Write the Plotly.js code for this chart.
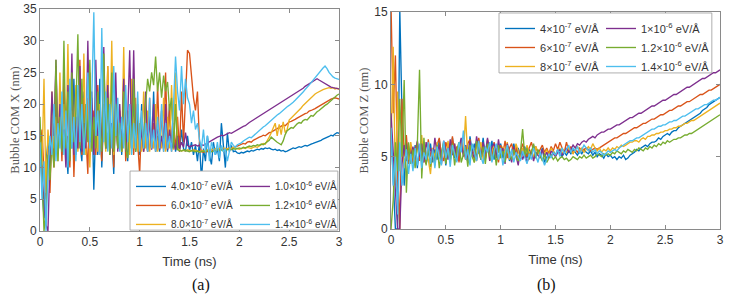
<!DOCTYPE html>
<html>
<head>
<meta charset="utf-8">
<script src="https://cdn.plot.ly/plotly-3.0.1.min.js"></script>
<style>
  html, body { margin: 0; padding: 0; background: #ffffff; }
  #chart { width: 729px; height: 302px; }
</style>
</head>
<body>
<div id="chart"></div>
<script>
// Bubble centre-of-mass trajectories, sampled every 0.02 ns from 0 to 3 ns
const sampleStart = 0;     // ns
const sampleStep = 0.02;   // ns

const timeTicks = [0, 0.5, 1, 1.5, 2, 2.5, 3];
const timeTickText = ['0', '0.5', '1', '1.5', '2', '2.5', '3'];

// Panel (a): lateral position, Bubble COM X (nm)
const fieldLabelsX = [
  '4.0×10<sup>-7</sup> eV/Å', '6.0×10<sup>-7</sup> eV/Å', '8.0×10<sup>-7</sup> eV/Å',
  '1.0×10<sup>-6</sup> eV/Å', '1.2×10<sup>-6</sup> eV/Å', '1.4×10<sup>-6</sup> eV/Å'
];
const comX_4e7 = [
  13, 8, 2, 11, 14, 10, 18, 11, 21, 13,
  17, 12, 22, 14, 9, 19, 13, 24, 12, 20,
  14, 11, 22, 13, 18, 12, 21, 6.5, 17, 12,
  24, 10, 19, 13, 22, 12, 16, 9, 20, 13,
  18, 12, 23, 14, 11, 19, 13, 21, 12.5, 17,
  12, 20, 13, 16, 12.5, 18, 13, 22, 12.5, 15,
  12.5, 19, 13, 16, 12.5, 20, 13, 17, 12.5, 14,
  12.5, 16, 13, 12.5, 15, 12.5, 14, 12, 13.5, 11,
  14, 8, 13, 11, 15, 12, 10.5, 14, 12, 13,
  11, 17, 13, 10, 15.5, 12.5, 13.5, 12.5, 12.6, 12.3,
  12.2, 12.4, 12.3, 12.5, 12.6, 12.5, 12.7, 12.6, 12.8, 12.9,
  12.8, 13.0, 12.9, 13.1, 13.0, 13.1, 12.9, 12.8, 12.9, 12.7,
  12.8, 12.6, 12.7, 12.5, 12.6, 12.8, 13.0, 13.1, 13.0, 13.2,
  13.3, 13.2, 13.4, 13.5, 13.4, 13.6, 13.7, 13.8, 13.9, 14.1,
  14.2, 14.3, 14.5, 14.6, 14.8, 14.9, 15.1, 15.0, 15.3, 15.5,
  15.4
];
const comX_6e7 = [
  12, 16, 9, 5, 13, 6, 17, 10, 26, 12,
  19, 11, 24, 13, 15, 10, 22, 8.5, 18, 13,
  27, 12, 21, 14, 9, 25, 13, 19, 12, 23,
  15, 11, 20, 13, 26, 12.5, 17, 10, 21, 13,
  19, 12.5, 24, 11, 18, 13, 22, 12, 20, 14,
  9, 18, 12.5, 15, 12.5, 21, 13, 17, 12.5, 23,
  13, 19, 12.5, 25, 13, 20, 12.5, 16, 13, 18,
  12.5, 22, 14, 21, 28.5, 28, 24, 21, 19, 22,
  14, 12.5, 12.4, 12.6, 12.5, 12.4, 12.6, 12.7, 12.6, 12.8,
  12.7, 12.9, 12.8, 13.0, 12.9, 13.1, 13.0, 13.2, 13.3, 13.4,
  13.5, 13.6, 13.8, 13.7, 14.0, 14.1, 14.0, 14.3, 14.5, 14.6,
  14.8, 14.9, 15.1, 15.0, 15.3, 15.5, 15.6, 15.8, 16.0, 16.1,
  16.4, 16.5, 16.7, 16.6, 16.9, 17.2, 17.3, 17.4, 17.6, 17.8,
  18.0, 18.1, 18.3, 18.5, 18.6, 18.9, 19.0, 19.1, 19.3, 19.5,
  19.7, 19.9, 20.1, 20.3, 20.4, 20.6, 20.8, 20.9, 21.0, 20.9,
  20.8
];
const comX_8e7 = [
  15, 10, 24, 6, 16, 12, 22, 13, 18, 11,
  25, 12.5, 20, 13, 29.5, 12, 19, 14, 23, 12.5,
  17, 13, 28, 12, 21, 10, 19, 13, 24, 12.5,
  20, 13, 17, 12.5, 26, 13, 30, 12, 22, 13,
  18, 12.5, 29, 13, 19, 12, 24, 13, 21, 12.5,
  17, 12.5, 22, 13, 19, 12.5, 15, 13, 20, 12.5,
  16, 13, 21, 12.5, 18, 13, 23, 12.8, 25, 13,
  12.8, 12.6, 12.7, 12.6, 12.8, 12.7, 12.6, 12.8, 12.7, 12.6,
  12.5, 12.6, 12.7, 12.6, 12.8, 12.7, 12.9, 12.8, 13.0, 12.9,
  13.0, 12.9, 13.1, 13.0, 12.9, 13.1, 13.0, 13.2, 13.1, 13.0,
  12.9, 13.0, 13.1, 13.0, 13.2, 13.1, 13.0, 13.2, 13.3, 13.2,
  13.4, 13.6, 13.8, 13.7, 14.2, 14.8, 15.5, 16.2, 17.0, 15.0,
  16.8, 15.2, 17.2, 15.5, 16.0, 17.5, 17.8, 18.2, 18.5, 18.8,
  19.1, 19.4, 19.8, 20.1, 20.5, 20.8, 21.1, 21.4, 21.6, 21.8,
  22.0, 22.2, 22.3, 22.4, 22.5, 22.6, 22.5, 22.6, 22.4, 22.5,
  22.3
];
const comX_1e6 = [
  12, 10, 4, 1, 0, 12, 22, 15, 27, 13,
  20, 12.5, 16, 10, 23, 14, 28, 12, 18, 13,
  26, 12.5, 17, 13, 30, 14, 22, 12, 27, 15,
  19, 12.5, 29, 13, 23, 12, 17, 13, 25, 12.5,
  20, 13, 24, 12.5, 18, 28.5, 14, 28.5, 13, 19,
  13, 16, 12.5, 22, 13, 18, 12.8, 20, 13, 17,
  12.8, 15, 13, 20, 12.8, 16, 13, 14, 12.8, 15,
  13, 14, 13.2, 15.5, 13.5, 13.3, 13.4, 13.5, 13.6, 13.4,
  13.5, 13.6, 13.5, 13.7, 13.8, 14.0, 14.2, 14.4, 14.6, 14.8,
  14.9, 15.1, 15.0, 15.2, 15.4, 15.5, 15.4, 15.6, 15.8, 16.0,
  16.1, 16.3, 16.5, 16.6, 16.9, 17.1, 17.3, 17.5, 17.6, 17.8,
  18.0, 18.2, 18.4, 18.6, 18.8, 19.0, 19.2, 19.4, 19.6, 19.8,
  20.0, 20.2, 20.4, 20.6, 20.8, 21.0, 21.2, 21.4, 21.6, 21.8,
  22.0, 22.3, 22.5, 22.8, 23.0, 23.3, 23.5, 23.7, 23.9, 24.0,
  23.8, 23.6, 23.4, 23.2, 23.0, 22.9, 22.7, 22.6, 22.5, 22.5,
  22.4
];
const comX_12e7 = [
  18, 10, 0, 3, 12, 8, 14, 10, 27, 11,
  18, 12.5, 30, 13, 22, 11, 25, 14, 19, 31,
  13, 24, 12, 20, 14, 27, 12.5, 18, 13, 22,
  16, 12.5, 28, 13, 21, 12, 25, 12.5, 20, 13,
  17, 12.5, 22, 13, 11.5, 19, 13, 24, 12.5, 20,
  14, 18, 13, 20, 24, 22, 25, 23, 27.5, 22,
  25, 21, 24.5, 22, 23.5, 19, 21, 13, 20, 12.8,
  12.7, 12.6, 12.8, 12.7, 12.6, 12.5, 12.7, 12.6, 12.5, 12.6,
  12.4, 12.5, 12.6, 12.5, 12.7, 12.6, 12.5, 12.6, 12.7, 12.8,
  12.7, 12.8, 12.6, 12.7, 12.8, 12.9, 12.8, 13.0, 12.9, 13.0,
  13.1, 13.0, 13.2, 13.1, 13.2, 13.4, 13.3, 13.5, 13.4, 13.6,
  13.5, 13.7, 13.6, 13.8, 14.0, 14.3, 14.8, 14.5, 14.2, 14.0,
  13.8, 13.6, 14.2, 15.2, 15.8, 16.0, 16.3, 16.2, 16.6, 16.9,
  17.1, 17.0, 17.4, 17.6, 17.5, 17.9, 18.2, 18.1, 18.5, 18.8,
  19.0, 19.3, 19.6, 19.8, 20.0, 20.3, 20.6, 20.9, 21.1, 21.4,
  21.6
];
const comX_14e7 = [
  14, 5, 11, 0, 9, 15, 12, 20, 11, 17,
  13, 22, 12, 19, 10, 24, 13, 18, 11, 23,
  14, 20, 12, 17, 25, 13, 21, 34.5, 15, 19,
  12, 32, 14, 22, 12.5, 20, 13, 26, 15, 21,
  12.5, 18, 13, 23, 14, 20, 12, 17, 13, 22,
  12.5, 19, 13, 17, 12.5, 21, 13, 16, 12.5, 18,
  13, 20, 12.5, 17, 13, 15, 12.5, 21, 27.5, 22,
  19, 26, 20, 24, 21, 20, 17, 19, 16, 17,
  14.5, 13, 16, 12.5, 15, 11, 14, 13, 12, 14,
  11.5, 13.5, 12.5, 13, 11, 12.5, 14, 13.5, 13.2, 13.6,
  13.7, 13.9, 14.2, 14.4, 14.6, 14.8, 14.7, 15.0, 15.3, 15.6,
  15.8, 16.1, 16.4, 16.6, 16.9, 17.2, 17.5, 17.7, 18.0, 18.3,
  18.5, 18.8, 19.1, 19.3, 19.6, 19.8, 20.0, 20.3, 20.6, 20.9,
  21.2, 21.5, 21.9, 22.3, 22.6, 23.0, 23.4, 23.8, 24.2, 24.6,
  24.9, 25.3, 25.7, 26.0, 25.6, 25.0, 24.6, 24.3, 24.1, 24.0,
  23.9
];

// Panel (b): vertical position, Bubble COM Z (nm)
const fieldLabelsZ = [
  '4×10<sup>-7</sup> eV/Å', '6×10<sup>-7</sup> eV/Å', '8×10<sup>-7</sup> eV/Å',
  '1×10<sup>-6</sup> eV/Å', '1.2×10<sup>-6</sup> eV/Å', '1.4×10<sup>-6</sup> eV/Å'
];
const comZ_4e7 = [
  7, 3, 0, 0, 15.2, 8, 3, 6, 4.5, 5.5,
  4.5, 5.8, 4.2, 5.6, 4.8, 6, 4.5, 5.2, 5.9, 4.6,
  5.5, 4.8, 6.2, 5, 5.7, 4.4, 5.9, 5.1, 6.3, 4.9,
  5.6, 4.7, 6.1, 5.2, 5.8, 4.6, 6.4, 5.3, 5.9, 4.8,
  6, 5.1, 6.3, 4.9, 5.7, 5.2, 6.1, 4.8, 5.6, 5.3,
  5.9, 4.9, 5.5, 5.8, 4.7, 5.4, 5.9, 5, 5.6, 4.8,
  5.3, 5.7, 4.9, 5.5, 5.2, 5.8, 4.9, 5.4, 5.1, 5.6,
  4.6, 4.9, 5.3, 5.0, 5.4, 5.1, 5.5, 5.2, 5.0, 5.3,
  5.1, 5.4, 5.2, 5.5, 5.3, 5.1, 5.4, 5.2, 5.5, 5.3,
  5.2, 5.4, 5.1, 5.3, 5.0, 5.2, 5.1, 4.9, 5.2, 5.0,
  5.1, 4.9, 5.0, 4.8, 5.0, 4.9, 5.1, 4.8, 4.9, 5.1,
  5.2, 5.3, 5.5, 5.4, 5.6, 5.7, 5.8, 5.7, 5.9, 6.0,
  6.0, 6.1, 6.3, 6.2, 6.4, 6.5, 6.6, 6.5, 6.7, 6.8,
  6.8, 7.0, 7.1, 7.2, 7.3, 7.4, 7.5, 7.6, 7.7, 7.8,
  7.9, 8.0, 8.2, 8.3, 8.4, 8.6, 8.7, 8.8, 8.9, 9.0,
  9.1
];
const comZ_6e7 = [
  15.5, 8, 12, 4, 0, 9, 5, 6.5, 4.5, 5.8,
  4.6, 5.5, 6, 4.7, 5.9, 5.2, 4.5, 6.2, 5, 5.6,
  4.4, 5.8, 6.3, 5.1, 4.7, 6, 5.4, 4.9, 6.4, 5.2,
  5.7, 4.6, 6.1, 5.5, 4.8, 5.9, 6.2, 5, 5.5, 4.7,
  6.3, 5.4, 5.9, 4.8, 6.2, 5.6, 5.0, 6.0, 5.3, 4.6,
  5.8, 5.2, 6.1, 4.9, 5.6, 5.9, 5.1, 5.7, 4.8, 5.4,
  5.9, 5.3, 5.0, 5.6, 6.0, 5.4, 5.7, 5.2, 5.5, 5.8,
  5.3, 5.6, 5.2, 5.7, 5.4, 5.9, 5.5, 6.0, 5.6, 5.3,
  6.0, 5.4, 5.7, 5.2, 5.5, 5.3, 5.6, 5.4, 5.5, 5.6,
  5.5, 5.4, 5.5, 5.6, 5.5, 5.6, 5.7, 5.8, 5.9, 6.0,
  6.1, 6.2, 6.3, 6.3, 6.4, 6.5, 6.6, 6.6, 6.7, 6.8,
  6.9, 7.0, 7.0, 7.1, 7.2, 7.3, 7.3, 7.4, 7.5, 7.6,
  7.6, 7.7, 7.8, 7.9, 7.9, 8.0, 8.1, 8.2, 8.2, 8.3,
  8.4, 8.5, 8.5, 8.6, 8.7, 8.8, 8.8, 8.9, 9.0, 9.1,
  9.2, 9.3, 9.3, 9.4, 9.5, 9.6, 9.6, 9.7, 9.8, 9.9,
  10.0
];
const comZ_8e7 = [
  6, 12.6, 3, 9.5, 4, 6.5, 4.2, 5.5, 4.8, 6.0,
  5.0, 4.4, 5.8, 5.2, 6.5, 4.6, 5.3, 4.8, 3.8, 5.6,
  4.9, 6.0, 5.2, 4.6, 5.7, 5.0, 6.1, 4.7, 5.4, 5.9,
  4.8, 5.5, 6.2, 5.1, 7.8, 4.9, 5.6, 5.3, 4.6, 5.8,
  5.2, 6.0, 4.8, 5.5, 5.9, 4.7, 5.4, 5.8, 5.0, 5.6,
  4.9, 5.7, 5.2, 6.0, 4.8, 5.4, 5.1, 5.9, 5.3, 4.9,
  5.6, 5.0, 5.8, 5.2, 5.5, 4.9, 5.7, 5.3, 5.0, 5.4,
  5.2, 5.5, 5.0, 5.6, 5.3, 5.1, 5.4, 5.6, 5.2, 5.5,
  5.3, 5.6, 5.4, 5.2, 5.5, 5.7, 5.4, 5.6, 5.3, 5.5,
  5.7, 5.5, 5.9, 5.6, 5.4, 5.6, 5.3, 5.5, 5.4, 5.6,
  5.4, 5.6, 5.5, 5.7, 5.6, 5.8, 5.7, 5.8, 5.9, 6.0,
  6.0, 6.1, 6.1, 6.0, 6.2, 6.3, 6.2, 6.4, 6.4, 6.5,
  6.5, 6.6, 6.6, 6.7, 6.7, 6.8, 6.8, 6.9, 6.9, 7.0,
  7.0, 7.1, 7.1, 7.2, 7.3, 7.3, 7.4, 7.5, 7.5, 7.6,
  7.7, 7.8, 7.9, 8.0, 8.1, 8.2, 8.3, 8.4, 8.5, 8.6,
  8.7
];
const comZ_1e6 = [
  8, 5, 2, 0, 0, 4.5, 5.8, 4.7, 5.5, 4.9,
  5.7, 4.8, 6.1, 5.0, 5.9, 4.6, 6.0, 5.3, 5.6, 4.8,
  6.3, 5.2, 5.8, 4.5, 6.1, 5.4, 4.8, 6.2, 5.1, 5.9,
  4.7, 5.6, 6.3, 5.0, 5.8, 4.6, 6.1, 5.3, 4.9, 6.4,
  5.5, 4.8, 6.0, 5.2, 6.3, 4.7, 5.7, 5.9, 4.9, 6.2,
  5.1, 5.6, 4.5, 5.9, 5.3, 4.6, 5.7, 5.0, 4.4, 5.5,
  4.8, 5.2, 4.6, 5.0, 5.4, 4.7, 5.3, 5.1, 4.9, 5.5,
  5.0, 5.3, 4.9, 5.4, 5.2, 5.0, 5.3, 5.5, 5.1, 5.4,
  5.6, 5.3, 5.5, 5.8, 5.6, 5.9, 5.8, 6.0, 6.1, 6.0,
  6.2, 6.3, 6.4, 6.3, 6.5, 6.6, 6.7, 6.7, 6.8, 6.9,
  6.9, 7.0, 7.1, 7.2, 7.2, 7.3, 7.4, 7.5, 7.6, 7.7,
  7.7, 7.8, 7.9, 8.0, 8.0, 8.1, 8.2, 8.3, 8.4, 8.5,
  8.5, 8.6, 8.7, 8.8, 8.9, 8.9, 9.0, 9.1, 9.2, 9.3,
  9.3, 9.4, 9.5, 9.6, 9.7, 9.8, 9.8, 9.9, 10.0, 10.1,
  10.2, 10.3, 10.4, 10.4, 10.5, 10.6, 10.7, 10.8, 10.8, 10.9,
  11.0
];
const comZ_12e7 = [
  0, 2, 6, 4, 9, 5, 10.3, 2.5, 6, 4.5,
  5.5, 4.2, 5.8, 11.0, 3.5, 6.3, 4.4, 5.7, 4.3, 5.4,
  4.6, 5.8, 4.2, 5.3, 6.0, 4.5, 5.6, 4.8, 5.9, 4.4,
  5.5, 6.0, 4.6, 5.2, 5.7, 4.3, 5.8, 5.0, 4.6, 6.1,
  5.3, 4.8, 5.7, 4.5, 5.9, 5.1, 4.7, 5.6, 4.4, 5.8,
  4.9, 5.4, 4.6, 5.7, 5.2, 4.8, 5.5, 5.0, 4.7, 5.3,
  6.9, 5.0, 5.6, 4.8, 5.3, 5.9, 4.9, 5.5, 5.1, 4.7,
  5.2, 4.6, 4.9, 5.1, 4.8, 5.0, 4.7, 4.9, 5.0, 4.8,
  4.9, 4.7, 4.8, 5.0, 4.9, 4.8, 5.0, 4.9, 5.1, 4.9,
  5.0, 5.1, 4.9, 5.0, 5.2, 5.1, 5.0, 5.2, 5.1, 5.2,
  5.1, 5.3, 5.2, 5.4, 5.3, 5.2, 5.4, 5.3, 5.5, 5.4,
  5.3, 5.5, 5.4, 5.6, 5.5, 5.4, 5.6, 5.5, 5.7, 5.6,
  5.8, 5.7, 5.9, 5.8, 6.0, 5.9, 6.1, 6.0, 6.1, 6.2,
  6.2, 6.3, 6.3, 6.4, 6.5, 6.5, 6.6, 6.6, 6.7, 6.8,
  6.9, 7.0, 7.1, 7.2, 7.3, 7.4, 7.5, 7.6, 7.7, 7.8,
  7.9
];
const comZ_14e7 = [
  7, 3, 5, 1, 6, 3, 4.5, 5.5, 3.8, 5.2,
  4.0, 5.6, 4.4, 5.9, 4.2, 5.3, 4.8, 6.0, 4.5, 5.5,
  4.2, 5.7, 5.0, 4.4, 6.1, 4.9, 5.6, 4.3, 5.8, 5.1,
  4.6, 6.0, 5.3, 6.8, 4.8, 5.5, 4.4, 5.9, 5.2, 4.7,
  6.1, 5.0, 4.5, 5.7, 5.3, 6.0, 4.6, 5.4, 5.9, 4.8,
  5.6, 4.4, 5.2, 5.8, 4.9, 5.5, 4.6, 5.3, 5.0, 4.7,
  5.4, 5.0, 4.5, 5.2, 4.8, 5.6, 5.1, 4.6, 5.3, 4.9,
  4.4, 4.8, 5.2, 4.9, 5.3, 5.1, 5.5, 5.0, 5.6, 5.2,
  5.5, 5.8, 5.3, 5.6, 5.4, 5.7, 5.2, 5.5, 5.8, 5.6,
  5.4, 5.6, 5.3, 5.5, 5.2, 5.4, 5.3, 5.1, 5.2, 5.4,
  5.3, 5.4, 5.5, 5.4, 5.6, 5.7, 5.8, 5.9, 6.0, 6.1,
  6.1, 6.2, 6.3, 6.3, 6.4, 6.5, 6.6, 6.7, 6.8, 6.9,
  6.9, 7.0, 7.1, 7.1, 7.2, 7.2, 7.3, 7.4, 7.4, 7.5,
  7.5, 7.6, 7.7, 7.8, 7.8, 7.9, 8.0, 8.1, 8.2, 8.3,
  8.3, 8.4, 8.5, 8.6, 8.6, 8.7, 8.8, 8.9, 8.9, 9.0,
  9.1
];

const seriesX = [comX_4e7, comX_6e7, comX_8e7, comX_1e6, comX_12e7, comX_14e7];
const seriesZ = [comZ_4e7, comZ_6e7, comZ_8e7, comZ_1e6, comZ_12e7, comZ_14e7];

// MATLAB default line colour order
const lineColors = ['#0072BD', '#D95319', '#EDB120', '#7E2F8E', '#77AC30', '#4DBEEE'];

const sans = 'Liberation Sans, Arial, sans-serif';
const serif = 'Liberation Serif, Times New Roman, serif';

function makeTraces(series, labels, xa, ya, legendLeft, legendRight) {
  return series.map((vals, i) => ({
    type: 'scatter',
    mode: 'lines',
    x0: sampleStart,
    dx: sampleStep,
    y: vals,
    xaxis: xa,
    yaxis: ya,
    name: labels[i],
    legend: i < 3 ? legendLeft : legendRight,
    line: { color: lineColors[i], width: 1.35 },
    hoverinfo: 'skip'
  }));
}

const traces = [
  ...makeTraces(seriesX, fieldLabelsX, 'x', 'y', 'legend', 'legend2'),
  ...makeTraces(seriesZ, fieldLabelsZ, 'x2', 'y2', 'legend3', 'legend4')
];

const boxColor = '#8a8a8a';
function timeAxis(domain, anchor) {
  return {
    domain: domain, anchor: anchor, range: [0, 3],
    tickvals: timeTicks, ticktext: timeTickText,
    ticks: 'inside', ticklen: 4, tickcolor: boxColor, tickwidth: 1,
    showline: true, linecolor: boxColor, linewidth: 1, mirror: 'ticks',
    showgrid: false, zeroline: false, automargin: false,
    tickfont: { family: sans, size: 12, color: '#333333' },
    title: { text: 'Time (ns)', font: { family: sans, size: 13, color: '#333333' }, standoff: 8 }
  };
}
function comAxis(domain, anchor, top, label, standoff) {
  return {
    domain: domain, anchor: anchor, range: [0, top], dtick: 5,
    ticks: 'inside', ticklen: 4, tickcolor: boxColor, tickwidth: 1,
    showline: true, linecolor: boxColor, linewidth: 1, mirror: 'ticks',
    showgrid: false, zeroline: false, automargin: false,
    tickfont: { family: sans, size: 12, color: '#333333' },
    title: { text: label, font: { family: serif, size: 12.5, color: '#555555' }, standoff: standoff }
  };
}

function legendAt(x, y, size) {
  return {
    x: x, y: y, xanchor: 'left', yanchor: 'top',
    bgcolor: 'rgba(0,0,0,0)', borderwidth: 0, tracegroupgap: 0,
    font: { family: sans, size: size, color: '#333333' }
  };
}

const layout = {
  width: 729, height: 302,
  margin: { l: 40, r: 9, t: 9, b: 71 },
  paper_bgcolor: '#ffffff', plot_bgcolor: '#ffffff',
  showlegend: true,
  xaxis: timeAxis([0, 0.4397], 'y'),
  yaxis: comAxis([0, 1], 'x', 35, 'Bubble COM X (nm)', 0),
  xaxis2: timeAxis([0.5162, 1], 'y2'),
  yaxis2: comAxis([0.009, 0.9865], 'x2', 15, 'Bubble COM Z (nm)', 2),
  legend: legendAt(0.1338, 0.266, 10),
  legend2: legendAt(0.2868, 0.266, 10),
  legend3: legendAt(0.6765, 0.9775, 11),
  legend4: legendAt(0.825, 0.9775, 11),
  shapes: [
    { type: 'rect', xref: 'paper', yref: 'paper', x0: 0.1324, x1: 0.438, y0: 0.004, y1: 0.27,
      fillcolor: '#ffffff', line: { color: '#9a9a9a', width: 0.8 }, layer: 'above' },
    { type: 'rect', xref: 'paper', yref: 'paper', x0: 0.675, x1: 0.988, y0: 0.712, y1: 0.982,
      fillcolor: '#ffffff', line: { color: '#9a9a9a', width: 0.8 }, layer: 'above' }
  ],
  annotations: [
    { text: '(a)', xref: 'paper', yref: 'paper', x: 0.2206, y: -0.243, yanchor: 'middle',
      showarrow: false, font: { family: serif, size: 16, color: '#111111' } },
    { text: '(b)', xref: 'paper', yref: 'paper', x: 0.7618, y: -0.243, yanchor: 'middle',
      showarrow: false, font: { family: serif, size: 16, color: '#111111' } }
  ]
};

Plotly.newPlot('chart', traces, layout, { staticPlot: true, displayModeBar: false });
</script>
</body>
</html>
